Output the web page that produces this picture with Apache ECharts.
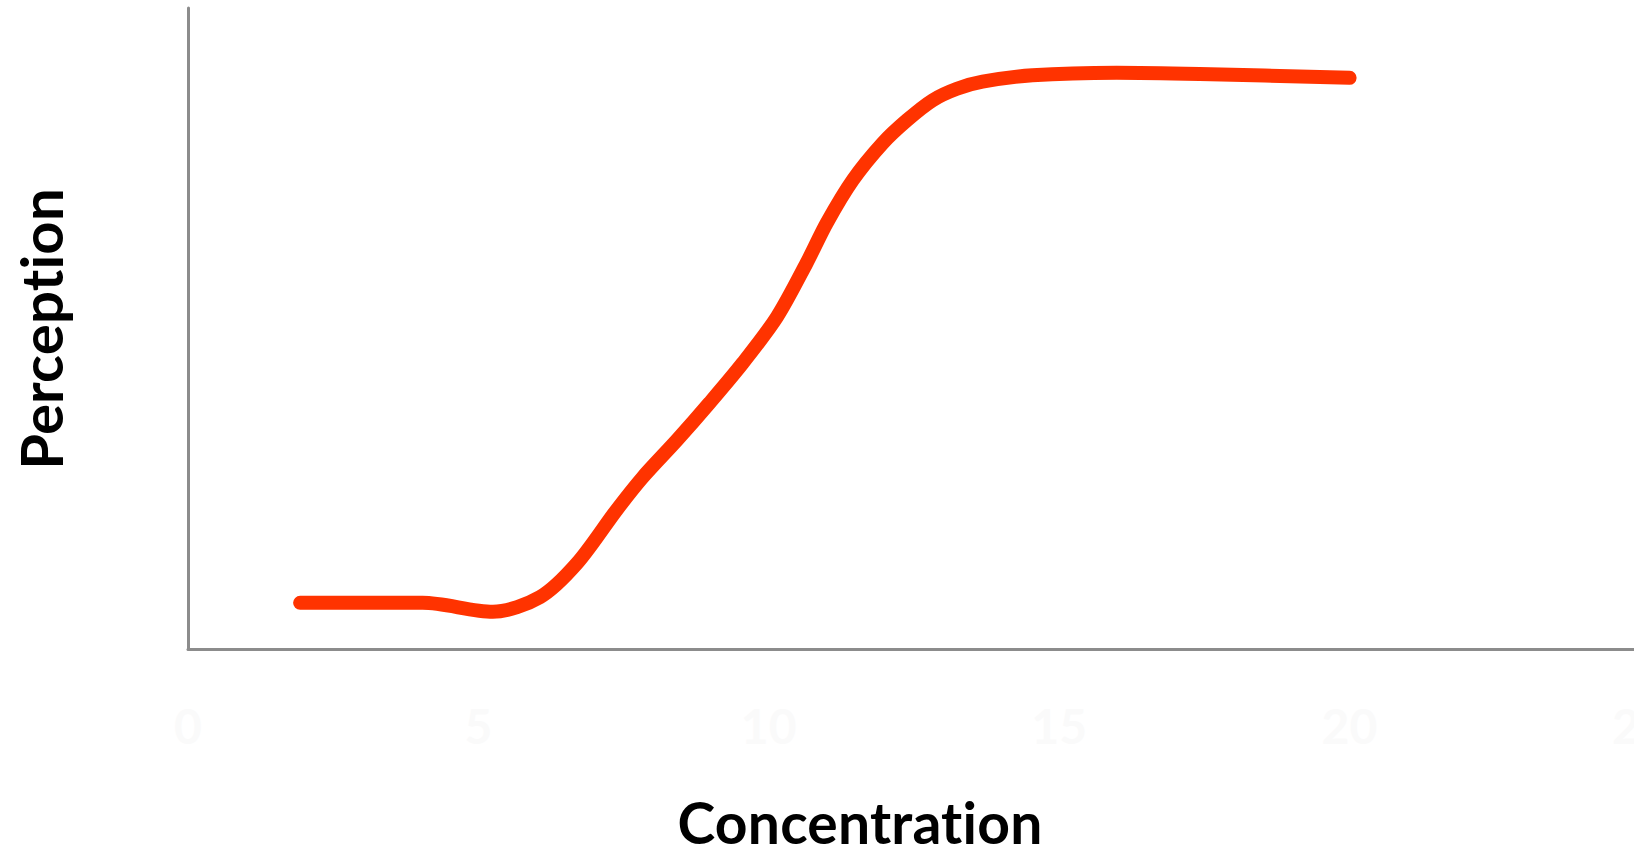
<!DOCTYPE html>
<html>
<head>
<meta charset="utf-8">
<script src="https://cdn.jsdelivr.net/npm/echarts@6/dist/echarts.min.js"></script>
<style>
html,body{margin:0;padding:0;background:#fff;}
#chart{width:1634px;height:857px;}
#chart svg text{font-variant-ligatures:none;font-feature-settings:"liga" 0,"clig" 0,"dlig" 0,"calt" 0;letter-spacing:0.2px;}
</style>
</head>
<body>
<div id="chart"></div>
<script>
// Data
const concentration = [1.93, 4.04, 5.25, 6.06, 6.70, 7.38, 7.83, 8.42, 8.98, 9.55, 10.14, 10.65, 11.0, 11.45, 11.96, 12.38, 12.82, 13.24, 13.68, 14.54, 15.99, 17.42, 20.0];
const perception    = [7.2, 7.2, 5.8, 8.1, 13.4, 21.7, 26.8, 32.6, 38.4, 44.6, 51.8, 60.2, 66.5, 73.2, 78.9, 82.5, 85.6, 87.4, 88.5, 89.5, 89.9, 89.7, 89.1];
const xTicks = [0, 5, 10, 15, 20, 25];
const xTitle = 'Concentration';
const yTitle = 'Perception';

const chart = echarts.init(document.getElementById('chart'), null, {renderer: 'svg'});
chart.setOption({
  animation: false,
  backgroundColor: '#ffffff',
  grid: {left: 188, top: 8, width: 1452, height: 641, containLabel: false, outerBoundsMode: 'none'},
  xAxis: {
    type: 'value', min: xTicks[0], max: xTicks[xTicks.length - 1], interval: 5,
    axisLine: {show: true, lineStyle: {color: '#8c8c8c', width: 3}},
    axisTick: {show: false},
    splitLine: {show: false},
    axisLabel: {
      show: true, margin: 52, color: '#fafafa', fontSize: 48, fontWeight: 'bold',
      fontFamily: 'Lato', showMaxLabel: true
    }
  },
  yAxis: {
    type: 'value', min: 0, max: 100,
    axisLine: {show: true, lineStyle: {color: '#8c8c8c', width: 3}},
    axisTick: {show: false},
    axisLabel: {show: false},
    splitLine: {show: false}
  },
  graphic: [
    {type: 'text', x: 860, y: 822, style: {text: xTitle, font: 'bold 57px Lato', fill: '#000', align: 'center', verticalAlign: 'middle'}},
    {type: 'text', x: 40, y: 329, rotation: Math.PI / 2, style: {text: yTitle, font: 'bold 58px Lato', fill: '#000', align: 'center', verticalAlign: 'middle'}}
  ],
  series: [{
    type: 'line',
    data: concentration.map((x, i) => [x, perception[i]]),
    smooth: 0.3,
    symbol: 'none',
    lineStyle: {color: '#ff3300', width: 14, cap: 'round', join: 'round'}
  }]
});
</script>
</body>
</html>
